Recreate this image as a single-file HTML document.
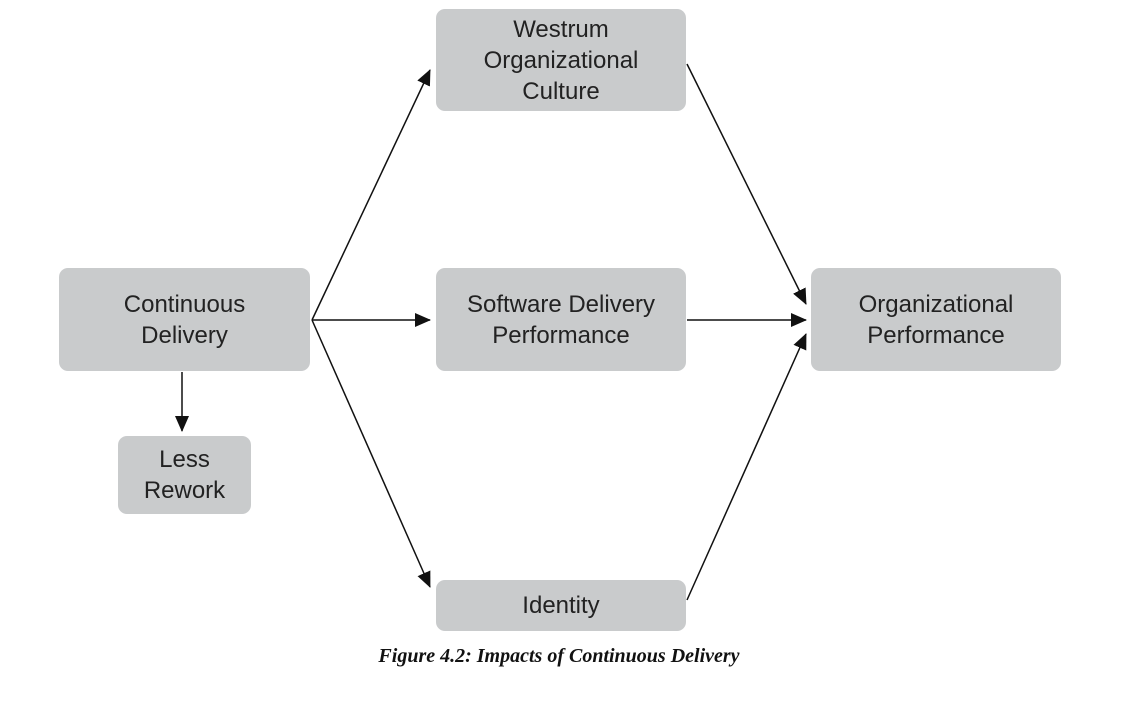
<!DOCTYPE html>
<html><head><meta charset="utf-8"><style>
html,body{margin:0;padding:0;background:#fff;}
#c{position:relative;width:1144px;height:711px;overflow:hidden;font-family:"Liberation Sans","DejaVu Sans",sans-serif;}
.b{position:absolute;background:#c9cbcc;border-radius:9px;display:flex;align-items:center;justify-content:center;text-align:center;font-size:24px;line-height:31px;color:#222;}
svg{position:absolute;left:0;top:0;}
.cap{position:absolute;left:0;width:1118px;top:645px;text-align:center;font-family:"Liberation Serif",serif;font-style:italic;font-weight:bold;font-size:20px;color:#111;letter-spacing:0px;}
</style></head><body><div id="c">
<svg width="1144" height="711">
<defs><marker id="m" markerWidth="16" markerHeight="14" refX="15" refY="7" orient="auto" markerUnits="userSpaceOnUse"><path d="M0,0 L16,7 L0,14 z" fill="#111"/></marker></defs>
<g stroke="#111" stroke-width="1.5" fill="none">
<line x1="312" y1="320" x2="430" y2="70" marker-end="url(#m)"/>
<line x1="312" y1="320" x2="430" y2="320" marker-end="url(#m)"/>
<line x1="312" y1="320" x2="430" y2="587" marker-end="url(#m)"/>
<line x1="182" y1="372" x2="182" y2="431" marker-end="url(#m)"/>
<line x1="687" y1="64" x2="806" y2="304" marker-end="url(#m)"/>
<line x1="687" y1="320" x2="806" y2="320" marker-end="url(#m)"/>
<line x1="687" y1="600" x2="806" y2="334" marker-end="url(#m)"/>
</g></svg>
<div class="b" style="left:59px;top:268px;width:251px;height:103px;">Continuous<br>Delivery</div>
<div class="b" style="left:118px;top:436px;width:133px;height:78px;">Less<br>Rework</div>
<div class="b" style="left:436px;top:9px;width:250px;height:102px;">Westrum<br>Organizational<br>Culture</div>
<div class="b" style="left:436px;top:268px;width:250px;height:103px;">Software Delivery<br>Performance</div>
<div class="b" style="left:436px;top:580px;width:250px;height:51px;">Identity</div>
<div class="b" style="left:811px;top:268px;width:250px;height:103px;">Organizational<br>Performance</div>
<div class="cap">Figure 4.2: Impacts of Continuous Delivery</div>
</div></body></html>
